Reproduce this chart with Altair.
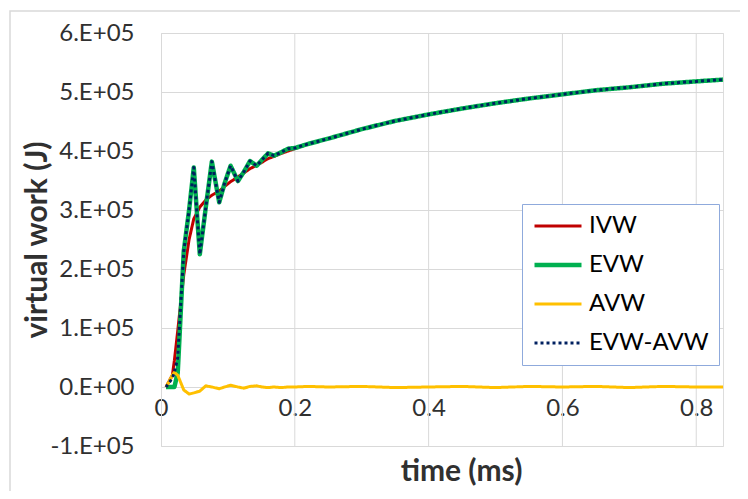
import altair as alt
import pandas as pd

# ---------------- data ----------------
time_ms = [0.0075, 0.017, 0.02, 0.025, 0.034, 0.042, 0.049, 0.058, 0.067, 0.076,
           0.087, 0.095, 0.104, 0.115, 0.124, 0.133, 0.143, 0.151, 0.16, 0.169,
           0.18, 0.19, 0.2, 0.22, 0.25, 0.3, 0.35, 0.4, 0.45, 0.5,
           0.55, 0.6, 0.65, 0.7, 0.75, 0.8, 0.84]

ivw = [0, 20000, 45000, 95000, 190000, 250000, 285000, 305000, 317000, 325000,
       332000, 340000, 348000, 356000, 363000, 370000, 376000, 381000, 387000, 391000,
       396000, 400000, 404000, 412000, 421000, 437000, 451000, 462000, 472000, 481000,
       489000, 496000, 503000, 508000, 514000, 518000, 521000]

evw = [0, 0, 0, 24000, 230000, 300000, 372000, 225000, 305000, 382000,
       313000, 345000, 375000, 349000, 365000, 383000, 375000, 385000, 396000, 392000,
       398000, 404000, 405000, 412000, 421000, 437000, 451000, 462000, 472000, 481000,
       489000, 496000, 503000, 508000, 514000, 518000, 521000]

avw = [0, 20000, 25000, 20000, -5000, -12000, -10000, -7000, 2000, 0,
       -3000, 0, 3000, 0, -2000, 1000, 2000, 0, -1000, 0,
       -1000, 0, 0, 1000, 0, 1000, -1000, 0, 1000, -1000,
       1000, 0, 1000, -1000, 1000, 0, 0]

evw_avw = [0, 15000, 25000, 50000, 230000, 300000, 372000, 225000, 305000, 382000,
           313000, 345000, 375000, 349000, 365000, 383000, 375000, 385000, 396000, 392000,
           398000, 404000, 405000, 412000, 421000, 437000, 451000, 462000, 472000, 481000,
           489000, 496000, 503000, 508000, 514000, 518000, 521000]

series_names = ["IVW", "EVW", "AVW", "EVW-AVW"]
series_colors = ["#C00000", "#00B050", "#FFC000", "#002060"]
series_dash = [[1, 0], [1, 0], [1, 0], [3, 3]]
series_width = [3, 4.5, 3, 3]

y_ticks = [-100000, 0, 100000, 200000, 300000, 400000, 500000, 600000]
x_ticks = [0, 0.2, 0.4, 0.6, 0.8]
x_grid = [0.2, 0.4, 0.6, 0.8]

rows = []
for name, vals in zip(series_names, [ivw, evw, avw, evw_avw]):
    for t, v in zip(time_ms, vals):
        rows.append({"time": t, "value": v, "series": name})
df = pd.DataFrame(rows)

FONT = "Lato"
GRID = "#D9D9D9"
TXT = "#303030"

legend = alt.Legend(
    orient="none", legendX=361, legendY=171, title=None,
    padding=10, strokeColor="#8FAADC", fillColor="white",
    labelFont=FONT, labelFontSize=24, labelColor="#000000",
    symbolType="stroke", symbolSize=2209, clipHeight=24, rowPadding=15,
    labelOffset=5,
)

xscale = alt.Scale(domain=[0, 0.84], nice=False, zero=False)
yscale = alt.Scale(domain=[-100000, 600000], nice=False)

x_axis = alt.Axis(values=x_ticks, grid=False, offset=-59, ticks=False,
                  domainColor=GRID, labelFont=FONT, labelFontSize=24,
                  labelColor=TXT, labelBaseline="top", labelPadding=9,
                  labelFlush=False, labelOverlap=False,
                  labelExpr="datum.value == 0 ? '0' : format(datum.value, '.1f')",
                  title="time (ms)", titleFont=FONT, titleFontSize=30,
                  titleFontWeight="bold", titleColor=TXT,
                  titleX=300, titleY=84, titleBaseline="middle")

base = alt.Chart(df).mark_line(strokeCap="butt", strokeJoin="round").encode(
    x=alt.X("time:Q", scale=xscale, axis=x_axis),
    y=alt.Y("value:Q", scale=yscale,
            axis=alt.Axis(values=y_ticks, grid=True, gridColor=GRID, domainColor=GRID,
                          ticks=False, labelFont=FONT, labelFontSize=24,
                          labelColor=TXT, labelPadding=27, labelFlush=False,
                          labelOverlap=False,
                          labelExpr="datum.value == 0 ? '0.E+00' : (datum.value < 0 ? '-' : '') + format(abs(datum.value) / 100000, 'd') + '.E+05'",
                          title="virtual work (J)", titleFont=FONT, titleFontSize=30,
                          titleFontWeight="bold", titleColor=TXT,
                          titleX=-124, titleBaseline="middle")),
    color=alt.Color("series:N", scale=alt.Scale(domain=series_names, range=series_colors), legend=legend),
    strokeDash=alt.StrokeDash("series:N", scale=alt.Scale(domain=series_names, range=series_dash), legend=legend),
    strokeWidth=alt.StrokeWidth("series:N", scale=alt.Scale(type="ordinal", domain=series_names, range=series_width), legend=legend),
)

grid_rules = alt.Chart(pd.DataFrame({"time": x_grid})).mark_rule(color=GRID, strokeWidth=1).encode(
    x=alt.X("time:Q", scale=xscale, axis=x_axis)
)

frame = alt.Chart(alt.Data(values=[{}])).mark_rect(fill=None, stroke=GRID, strokeWidth=1.5).encode(
    x=alt.value(-151), x2=alt.value(600), y=alt.value(-22), y2=alt.value(480)
)

layers = [frame, grid_rules] + [base.transform_filter(alt.datum.series == n) for n in series_names]

chart = alt.layer(*layers).properties(
    width=562, height=413,
    autosize="none",
    padding={"left": 153, "top": 25, "right": 17, "bottom": 45},
).configure_view(stroke=None).configure(background="white")

chart.save("out.html", embed_options={"renderer": "svg", "actions": False})
